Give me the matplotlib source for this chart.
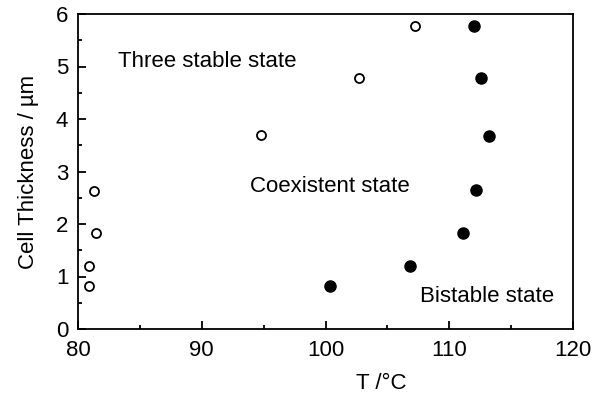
import matplotlib
matplotlib.use('Agg')
import matplotlib.pyplot as plt
from matplotlib.ticker import MultipleLocator

plt.rcParams['font.family'] = ['Liberation Sans', 'DejaVu Sans']

# open circles: three stable state boundary
open_T = [81.3, 81.45, 80.85, 80.9, 94.8, 102.7, 107.2]
open_d = [2.63, 1.83, 1.2, 0.81, 3.69, 4.79, 5.77]

# filled circles: bistable state boundary
fill_T = [112.0, 112.6, 113.2, 112.2, 111.1, 106.8, 100.4]
fill_d = [5.77, 4.78, 3.68, 2.65, 1.83, 1.2, 0.82]

fig = plt.figure(figsize=(5.94, 3.97), dpi=100)
ax = fig.add_axes([78 / 594, 1 - 329 / 397, (573 - 78) / 594, (329 - 14) / 397])

ax.plot(open_T, open_d, 'o', mfc='white', mec='black', mew=1.3, ms=6.5, clip_on=False)
ax.plot(fill_T, fill_d, 'o', mfc='black', mec='black', ms=8, clip_on=False)

ax.text(83.2, 5.09, 'Three stable state', fontsize=16, va='center')
ax.text(93.9, 2.72, 'Coexistent state', fontsize=16, va='center')
ax.text(107.6, 0.61, 'Bistable state', fontsize=16, va='center')

ax.set_xlim(80, 120)
ax.set_ylim(0, 6)
ax.xaxis.set_major_locator(MultipleLocator(10))
ax.xaxis.set_minor_locator(MultipleLocator(5))
ax.yaxis.set_major_locator(MultipleLocator(1))
ax.yaxis.set_minor_locator(MultipleLocator(0.5))
ax.tick_params(which='both', direction='in', labelsize=16, width=1.3)
ax.tick_params(which='major', length=6)
ax.tick_params(which='minor', length=3)
ax.tick_params(axis='x', pad=8)
ax.tick_params(axis='y', pad=7)
for s in ax.spines.values():
    s.set_linewidth(1.3)

ax.set_xlabel('T /°C', fontsize=16, labelpad=5)
ax.xaxis.set_label_coords(0.612, -0.14)
ax.set_ylabel('Cell Thickness / µm', fontsize=16, labelpad=12)

plt.savefig('out.png', dpi=100)
